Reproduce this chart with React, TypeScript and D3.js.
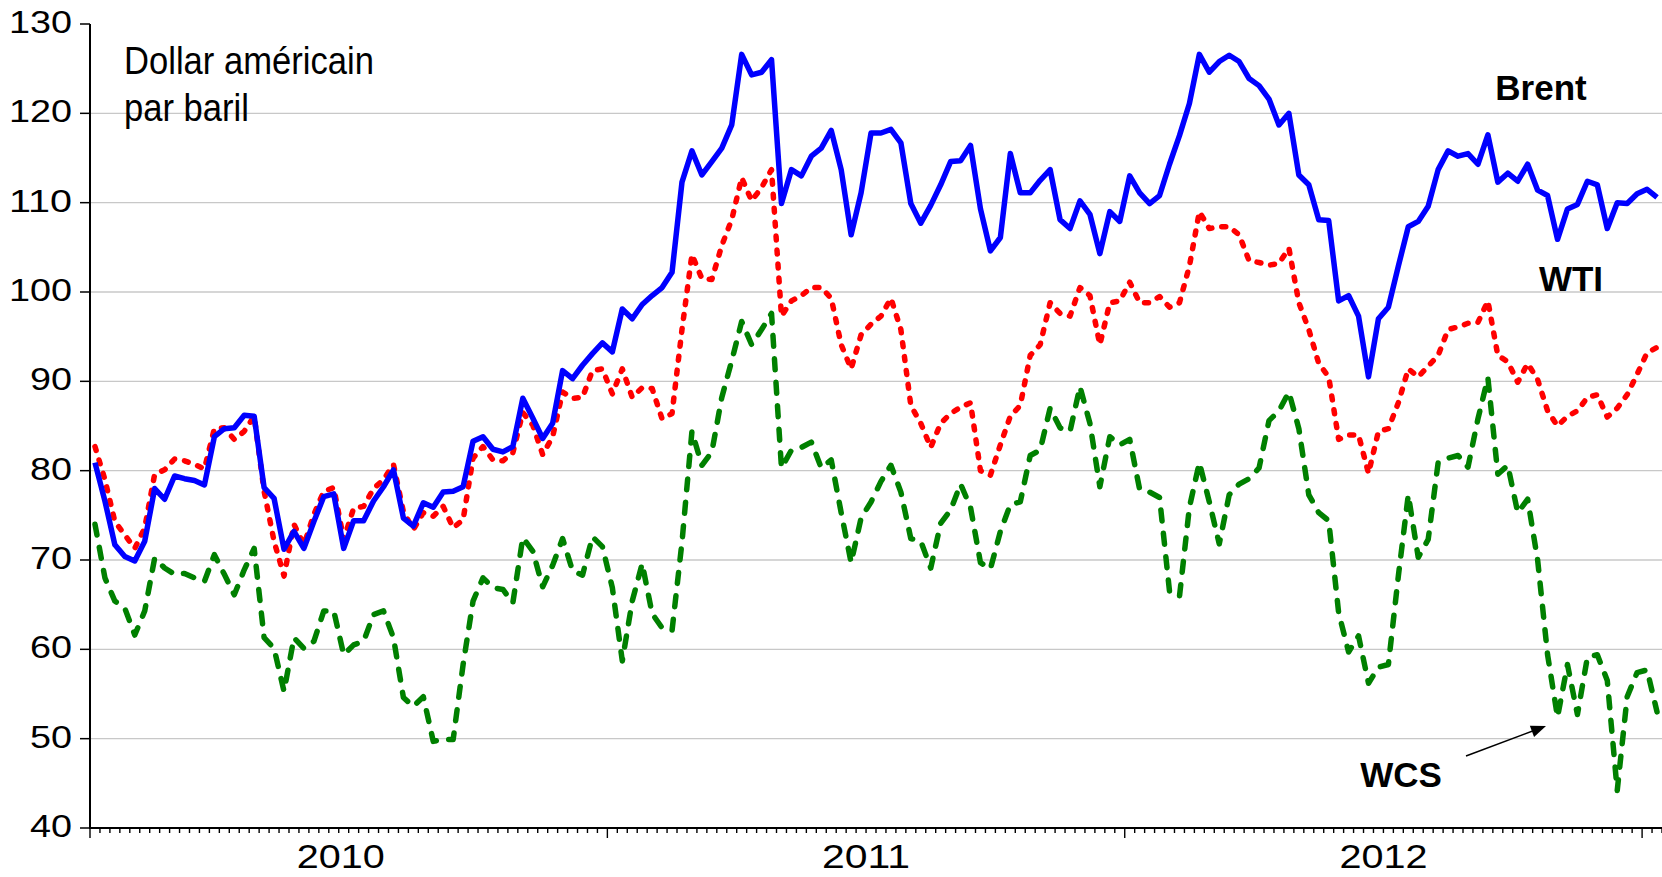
import React from 'react';
import * as d3 from 'd3';

// Weekly prices, US$ per barrel (Jan 2010 -> early Jan 2013)
const brent = [
  80.9, 76.6, 71.7, 70.4, 69.9, 72.1, 78.0, 76.8, 79.4, 79.1, 78.9, 78.4, 83.8, 84.7, 84.8, 86.2, 86.1, 78.1, 76.9, 71.2,
  73.2, 71.3, 74.3, 77.1, 77.4, 71.3, 74.4, 74.4, 76.6, 78.2, 80.1, 74.7, 73.8, 76.4, 75.9, 77.6, 77.7, 78.2, 83.3, 83.8,
  82.4, 82.1, 82.7, 88.1, 85.9, 83.6, 85.3, 91.2, 90.3, 91.8, 93.1, 94.3, 93.3, 98.1, 97.0, 98.6, 99.6, 100.5, 102.2, 112.3,
  115.8, 113.1, 114.6, 116.1, 118.7, 126.6, 124.3, 124.6, 126.0, 109.9, 113.7, 113.0, 115.2, 116.1, 118.1, 113.7, 106.4, 111.1, 117.8, 117.8,
  118.2, 116.7, 109.9, 107.7, 109.7, 112.0, 114.6, 114.7, 116.4, 109.3, 104.6, 106.1, 115.5, 111.1, 111.1, 112.5, 113.7, 108.1, 107.1, 110.2,
  108.7, 104.3, 109.0, 107.9, 113.0, 111.1, 109.9, 110.8, 114.3, 117.5, 121.1, 126.6, 124.6, 125.8, 126.5, 125.8, 123.9, 123.1, 121.6, 118.7,
  120.0, 113.1, 112.0, 108.1, 108.0, 99.0, 99.6, 97.3, 90.5, 97.0, 98.3, 102.9, 107.3, 107.9, 109.6, 113.7, 115.8, 115.2, 115.5, 114.3,
  117.6, 112.3, 113.3, 112.4, 114.3, 111.4, 110.8, 105.9, 109.3, 109.8, 112.4, 112.0, 107.1, 110.0, 109.9, 111.0, 111.5, 110.6,
];

const wti = [
  82.7, 79.0, 74.3, 72.8, 71.3, 73.6, 79.6, 80.1, 81.3, 81.1, 80.7, 80.2, 84.7, 84.8, 83.5, 84.4, 86.1, 77.7, 72.1, 68.2,
  74.0, 71.7, 75.1, 77.7, 78.1, 72.3, 75.8, 76.0, 78.0, 79.0, 80.7, 75.4, 73.4, 75.3, 74.9, 76.0, 73.6, 74.5, 81.4, 82.7,
  81.2, 81.1, 82.0, 86.5, 85.1, 81.8, 83.8, 88.8, 88.1, 88.2, 91.2, 91.4, 88.6, 91.4, 88.2, 89.3, 89.2, 85.8, 86.4, 95.8,
  104.2, 101.5, 101.4, 105.2, 108.1, 112.8, 110.2, 111.7, 113.7, 97.3, 99.0, 99.6, 100.5, 100.5, 99.3, 94.1, 91.4, 95.2, 96.4, 97.3,
  99.3, 95.8, 87.3, 85.3, 82.6, 85.3, 86.4, 87.1, 87.6, 80.0, 79.5, 82.9, 86.1, 87.3, 92.9, 94.1, 98.8, 97.6, 97.3, 100.5,
  99.6, 94.1, 98.8, 99.0, 101.1, 98.8, 98.8, 99.5, 98.3, 98.8, 102.9, 109.0, 107.1, 107.3, 107.3, 106.4, 103.5, 103.3, 103.0, 103.2,
  104.9, 98.8, 95.8, 92.0, 90.5, 83.5, 84.0, 84.0, 79.7, 84.4, 84.7, 87.6, 91.4, 90.5, 91.7, 92.9, 95.8, 96.1, 96.5, 96.6,
  99.0, 92.9, 92.2, 89.9, 92.0, 90.2, 86.7, 85.0, 86.1, 86.7, 88.2, 88.5, 86.0, 87.0, 88.5, 90.8, 93.2, 93.8,
];

const wcs = [
  74.0, 68.0, 65.4, 64.6, 61.6, 64.3, 70.2, 69.1, 68.4, 68.5, 68.0, 67.6, 70.6, 68.4, 66.1, 68.9, 71.3, 61.3, 60.1, 55.3,
  61.3, 60.1, 60.9, 64.3, 64.3, 59.4, 60.5, 60.9, 63.9, 64.3, 61.3, 54.6, 53.6, 54.7, 49.7, 49.9, 49.9, 58.3, 65.4, 68.0,
  66.9, 66.7, 65.2, 72.5, 71.0, 67.0, 69.4, 72.4, 68.8, 68.3, 72.6, 71.5, 66.9, 58.7, 65.4, 69.6, 64.0, 62.4, 62.1, 72.0,
  84.4, 80.6, 82.1, 88.2, 92.3, 96.7, 94.1, 95.8, 97.6, 80.3, 82.3, 82.6, 83.2, 80.3, 81.2, 75.3, 69.7, 74.7, 76.5, 78.8,
  80.6, 77.6, 72.4, 72.1, 69.1, 74.1, 75.6, 78.5, 75.9, 69.7, 69.0, 73.2, 76.2, 76.5, 81.7, 82.3, 87.0, 84.8, 84.4, 89.4,
  85.3, 78.2, 83.8, 82.9, 83.5, 77.9, 77.6, 77.0, 66.5, 65.9, 75.9, 80.9, 76.5, 71.8, 77.3, 78.5, 79.1, 80.3, 85.6, 86.7,
  88.8, 84.7, 77.3, 75.3, 74.4, 64.1, 59.7, 61.5, 56.2, 58.0, 58.3, 68.2, 77.3, 70.3, 72.3, 80.9, 81.4, 81.7, 80.4, 85.8,
  90.4, 79.6, 80.6, 75.3, 76.8, 70.0, 59.4, 52.4, 58.3, 52.7, 59.1, 59.4, 56.5, 44.2, 54.7, 57.4, 57.7, 53.0,
];

const yTicks = [40, 50, 60, 70, 80, 90, 100, 110, 120, 130];
const gridValues = [50, 60, 70, 80, 90, 100, 110, 120];
const years = ['2010', '2011', '2012'];
const weeksPerYear = 52;
const titleLines = ['Dollar américain', 'par baril'];

const FONT = '"Liberation Sans", Arial, Helvetica, sans-serif';

export default function App() {
  const weeks = brent.map((_, i) => i);
  const x = d3.scaleBand<number>().domain(weeks).range([90, 1662]).paddingInner(0).paddingOuter(0);
  const bw = x.bandwidth();
  const y = d3.scaleLinear().domain([40, 130]).range([828, 24]);
  const cx = (i: number) => (x(i) as number) + bw / 2;
  const mkLine = d3
    .line<number>()
    .x((_, i) => cx(i))
    .y((v) => y(v))
    .curve(d3.curveLinear);

  const tickPositions = [...weeks.map((i) => x(i) as number), 1662];

  const arrowStart = [1466, 756];
  const arrowEnd = [1546, 726];
  const ang = Math.atan2(arrowEnd[1] - arrowStart[1], arrowEnd[0] - arrowStart[0]);
  const ah = 15, aw = 6;
  const p1 = [arrowEnd[0] - ah * Math.cos(ang) + aw * Math.sin(ang), arrowEnd[1] - ah * Math.sin(ang) - aw * Math.cos(ang)];
  const p2 = [arrowEnd[0] - ah * Math.cos(ang) - aw * Math.sin(ang), arrowEnd[1] - ah * Math.sin(ang) + aw * Math.cos(ang)];

  return (
    <svg
      width={1662}
      height={877}
      style={{ position: 'absolute', left: 0, top: 0, display: 'block', background: '#fff' }}
      fontFamily={FONT}
    >
      <rect x={0} y={0} width={1662} height={877} fill="#fff" />
      {/* gridlines */}
      {gridValues.map((v) => (
        <line key={'g' + v} x1={90} x2={1662} y1={y(v)} y2={y(v)} stroke="#c8c8c8" strokeWidth={1.4} />
      ))}

      {/* series */}
      <path d={mkLine(wcs) || ''} fill="none" stroke="#008000" strokeWidth={5.5} strokeDasharray="11 12.5" strokeLinecap="round" strokeLinejoin="round" />
      <path d={mkLine(wti) || ''} fill="none" stroke="#ff0000" strokeWidth={5.5} strokeDasharray="4 10" strokeLinecap="round" strokeLinejoin="round" />
      <path d={mkLine(brent) || ''} fill="none" stroke="#0000ff" strokeWidth={5.5} strokeLinejoin="round" />

      {/* y axis */}
      <line x1={90} x2={90} y1={y(130)} y2={y(40) + 1} stroke="#000" strokeWidth={2} />
      {yTicks.map((v) => (
        <g key={'y' + v}>
          <line x1={80} x2={90} y1={y(v)} y2={y(v)} stroke="#000" strokeWidth={1.5} />
          <text
            x={72}
            y={y(v) + 9}
            textAnchor="end"
            fontSize={31}
            textLength={String(v).length * 21}
            lengthAdjust="spacingAndGlyphs"
            fill="#000"
          >
            {v}
          </text>
        </g>
      ))}

      {/* x axis */}
      <line x1={89} x2={1662} y1={y(40)} y2={y(40)} stroke="#000" strokeWidth={2} />
      {tickPositions.map((px, i) => (
        <line
          key={'t' + i}
          x1={px}
          x2={px}
          y1={y(40)}
          y2={y(40) + (i % weeksPerYear === 0 ? 10 : 5)}
          stroke="#000"
          strokeWidth={1.4}
        />
      ))}
      {years.map((yr, k) => (
        <text
          key={yr}
          x={(x(k * weeksPerYear) as number) + (weeksPerYear / 2) * bw - (k === 0 ? 8 : 0)}
          y={868}
          textAnchor="middle"
          fontSize={34}
          textLength={88}
          lengthAdjust="spacingAndGlyphs"
          fill="#000"
        >
          {yr}
        </text>
      ))}

      {/* unit title */}
      <text x={124} y={74} fontSize={38} textLength={250} lengthAdjust="spacingAndGlyphs" fill="#000">
        {titleLines[0]}
      </text>
      <text x={124} y={121} fontSize={38} textLength={125} lengthAdjust="spacingAndGlyphs" fill="#000">
        {titleLines[1]}
      </text>

      {/* series labels */}
      <text x={1541} y={100} textAnchor="middle" fontSize={35} fontWeight="bold" fill="#000">Brent</text>
      <text x={1571} y={291} textAnchor="middle" fontSize={35} fontWeight="bold" fill="#000">WTI</text>
      <text x={1401} y={787} textAnchor="middle" fontSize={35} fontWeight="bold" fill="#000">WCS</text>

      {/* arrow */}
      <line x1={arrowStart[0]} y1={arrowStart[1]} x2={arrowEnd[0] - 10 * Math.cos(ang)} y2={arrowEnd[1] - 10 * Math.sin(ang)} stroke="#000" strokeWidth={1.6} />
      <polygon points={`${arrowEnd[0]},${arrowEnd[1]} ${p1[0]},${p1[1]} ${p2[0]},${p2[1]}`} fill="#000" />
    </svg>
  );
}
